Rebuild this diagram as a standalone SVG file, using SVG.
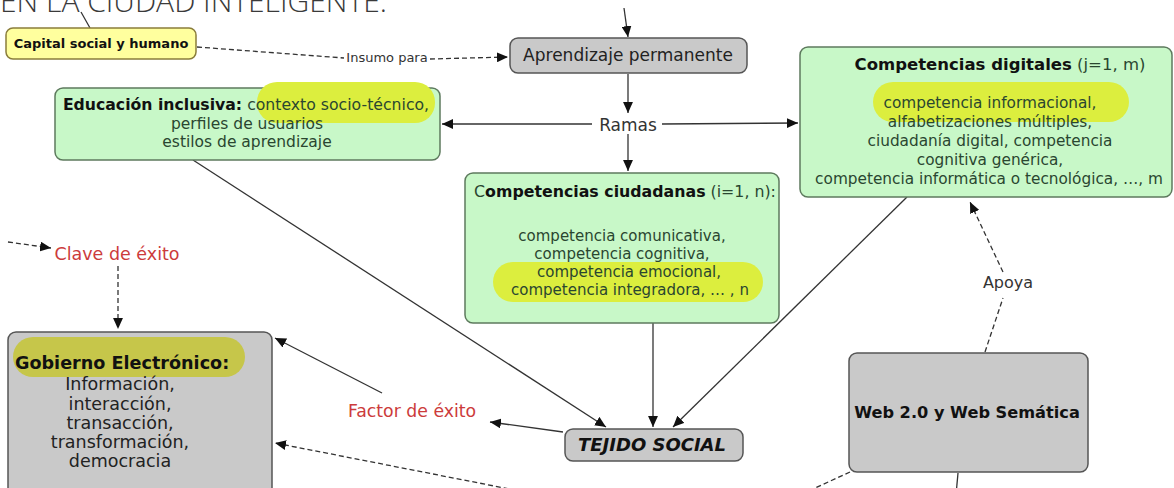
<svg xmlns="http://www.w3.org/2000/svg" width="1174" height="488" viewBox="0 0 1174 488">
<defs>
<marker id="ah" viewBox="0 0 10 9" refX="10" refY="4.5" markerWidth="11" markerHeight="10" markerUnits="userSpaceOnUse" orient="auto"><path d="M0,0 L10,4.5 L0,9 z" fill="#111"/></marker>
<style>
.t{font-family:"DejaVu Sans",Verdana,sans-serif}
.green{fill:#c8f8c8;stroke:#5d7a5d;stroke-width:1.5}
.gray{fill:#c9c9c9;stroke:#555;stroke-width:1.5}
.yel{fill:#ffff9e;stroke:#8a7d3b;stroke-width:1.5}
.hl{fill:#dcee3e}
.hlg{fill:#c6c64a}
.b{font-weight:bold;fill:#111}
.body{fill:#2a4630}
.red{fill:#cc3b3b}
.c{stroke:#333;stroke-width:1.3;fill:none}
.d{stroke:#333;stroke-width:1.3;fill:none;stroke-dasharray:5,3}
.lbl{fill:#333}
</style>
</defs>
<rect width="1174" height="488" fill="#fff"/>
<text x="0" y="12" font-family="'Open Sans','Liberation Sans',sans-serif" font-size="30" font-weight="300" fill="#3a3a3a">EN LA CIUDAD INTELIGENTE.</text>

<g id="connectors">
<path class="c" d="M90,28 L81,12" stroke="#555"/>
<path class="c" d="M624,8 L628,37" marker-end="url(#ah)"/>
<path class="d" d="M197,47 L344,58"/>
<path class="d" d="M430,59 L508,57" marker-end="url(#ah)"/>
<path class="c" d="M628,74 L628,113" marker-end="url(#ah)"/>
<path class="c" d="M592,124 L442,124" marker-end="url(#ah)"/>
<path class="c" d="M662,124 L798,123" marker-end="url(#ah)"/>
<path class="c" d="M628,134 L628,171" marker-end="url(#ah)"/>
<path class="c" d="M193,160 L606,427" marker-end="url(#ah)"/>
<path class="c" d="M653,323 L653,427" marker-end="url(#ah)"/>
<path class="c" d="M907,197 L673,427" marker-end="url(#ah)"/>
<path class="c" d="M563,432 L490,422" marker-end="url(#ah)"/>
<path class="c" d="M382,393 L275,338" marker-end="url(#ah)"/>
<path class="d" d="M8,242 L51,248" marker-end="url(#ah)"/>
<path class="d" d="M118,266 L118,329" marker-end="url(#ah)"/>
<path class="d" d="M985,352 L1003,298"/>
<path class="d" d="M1003,272 L970,202" marker-end="url(#ah)"/>
<path class="d" d="M850,472 L800,495"/>
<path class="d" d="M540,495 L275,443" marker-end="url(#ah)"/>
<path class="c" d="M958,473 L956,495"/>
<text class="t lbl" x="387" y="62" font-size="13" text-anchor="middle">Insumo para</text>
<text class="t lbl" x="628" y="131" font-size="17" text-anchor="middle">Ramas</text>
<text class="t red" x="412" y="417" font-size="17.3" text-anchor="middle">Factor de éxito</text>
<text class="t red" x="117" y="260" font-size="17.5" text-anchor="middle">Clave de éxito</text>
<text class="t lbl" x="1008" y="288" font-size="16" text-anchor="middle">Apoya</text>
</g>

<g id="capital">
<rect class="yel" x="6" y="28" width="190" height="31" rx="7"/>
<text class="t b" x="101" y="48" font-size="13" text-anchor="middle">Capital social y humano</text>
</g>

<g id="aprendizaje">
<rect class="gray" x="510" y="38" width="237" height="35" rx="8"/>
<text class="t" x="628" y="61" font-size="17" text-anchor="middle" fill="#222">Aprendizaje permanente</text>
</g>

<g id="educacion">
<rect class="green" x="55" y="88" width="385" height="72" rx="8"/>
<rect class="hl" x="257" y="82" width="178" height="41" rx="20"/>
<text class="t" x="246" y="110" font-size="15.7" text-anchor="middle"><tspan class="b">Educación inclusiva:</tspan><tspan class="body"> contexto socio-técnico,</tspan></text>
<text class="t body" x="247" y="129" font-size="15.5" text-anchor="middle">perfiles de usuarios</text>
<text class="t body" x="247" y="147" font-size="15.5" text-anchor="middle">estilos de aprendizaje</text>
</g>

<g id="digitales">
<rect class="green" x="800" y="47" width="372" height="150" rx="8"/>
<rect class="hl" x="873" y="82" width="256" height="40" rx="20"/>
<text class="t" x="1000" y="70" font-size="16.5" text-anchor="middle"><tspan class="b">Competencias digitales</tspan><tspan class="body"> (j=1, m)</tspan></text>
<text class="t body" x="990" y="108" font-size="15.3" text-anchor="middle">competencia informacional,</text>
<text class="t body" x="990" y="127" font-size="15.3" text-anchor="middle">alfabetizaciones múltiples,</text>
<text class="t body" x="990" y="146" font-size="15.3" text-anchor="middle">ciudadanía digital, competencia</text>
<text class="t body" x="990" y="165" font-size="15.3" text-anchor="middle">cognitiva genérica,</text>
<text class="t body" x="989" y="184" font-size="15.3" text-anchor="middle">competencia informática o tecnológica, …, m</text>
</g>

<g id="ciudadanas">
<rect class="green" x="465" y="173" width="314" height="150" rx="8"/>
<rect class="hl" x="493" y="262" width="270" height="40" rx="20"/>
<text class="t" x="625" y="197" font-size="15.8" text-anchor="middle"><tspan class="body">C</tspan><tspan class="b">ompetencias ciudadanas</tspan><tspan class="body"> (i=1, n):</tspan></text>
<text class="t body" x="622" y="241" font-size="15" text-anchor="middle">competencia comunicativa,</text>
<text class="t body" x="622" y="259" font-size="15" text-anchor="middle">competencia cognitiva,</text>
<text class="t body" x="629" y="277" font-size="15" text-anchor="middle">competencia emocional,</text>
<text class="t body" x="630" y="295" font-size="15" text-anchor="middle">competencia integradora, … , n</text>
</g>

<g id="gobierno">
<rect class="gray" x="8" y="332" width="264" height="170" rx="8"/>
<rect class="hlg" x="13" y="337" width="232" height="40" rx="20"/>
<text class="t b" x="15" y="369" font-size="17.6">Gobierno Electrónico:</text>
<text class="t" x="120" y="390" font-size="17.5" text-anchor="middle" fill="#222">Información,</text>
<text class="t" x="120" y="410" font-size="17.5" text-anchor="middle" fill="#222">interacción,</text>
<text class="t" x="120" y="429" font-size="17.5" text-anchor="middle" fill="#222">transacción,</text>
<text class="t" x="120" y="448" font-size="17.5" text-anchor="middle" fill="#222">transformación,</text>
<text class="t" x="120" y="467" font-size="17.5" text-anchor="middle" fill="#222">democracia</text>
</g>

<g id="tejido">
<rect class="gray" x="565" y="429" width="178" height="32" rx="8"/>
<text class="t b" x="652" y="451" font-size="18" font-style="italic" text-anchor="middle">TEJIDO SOCIAL</text>
</g>

<g id="web">
<rect class="gray" x="849" y="353" width="239" height="119" rx="8"/>
<text class="t b" x="967" y="418" font-size="16.2" text-anchor="middle">Web 2.0 y Web Semática</text>
</g>
</svg>
